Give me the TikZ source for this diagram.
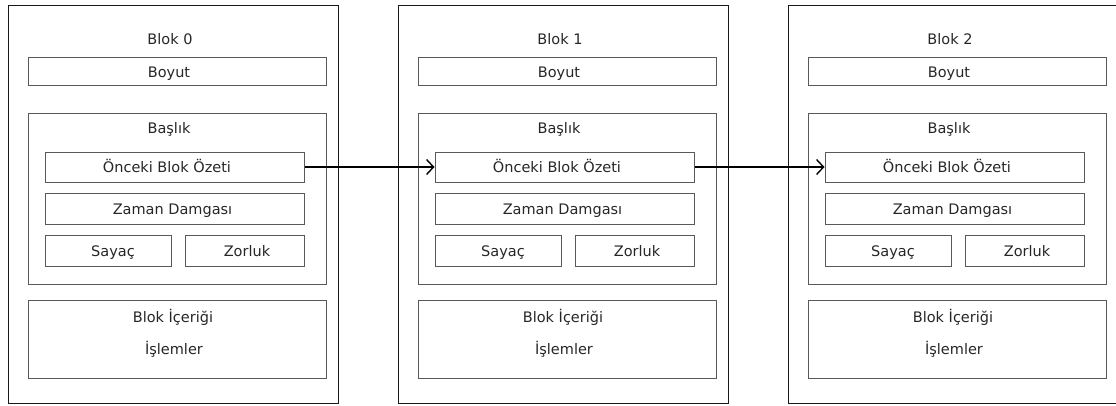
\documentclass[tikz,border=0pt]{standalone}
\usepackage{fontspec}
\setmainfont{DejaVu Sans}
\usetikzlibrary{arrows.meta}
\newcommand\BlkDraw[3]{%
  \begin{scope}[xshift=#1pt]
    \node[outer, minimum width=330pt, minimum height=398pt] (#3) at (165,204) {};
    \node[lbl] (#3t) at (162,44) {Blok #2};
    \node[inner, minimum width=298pt, minimum height=28pt] (#3boy) at (169,71) {};
    \node[lbl] (#3boyt) at (161,77) {Boyut};
    \node[inner, minimum width=298pt, minimum height=171pt] (#3bas) at (169,198.5) {};
    \node[lbl] (#3bast) at (161,133) {Başlık};
    \node[inner, minimum width=259pt, minimum height=30pt] (#3onc) at (166.5,167) {};
    \node[lbl] (#3onct) at (159,172) {Önceki Blok Özeti};
    \node[inner, minimum width=259pt, minimum height=31pt] (#3zam) at (166.5,208.5) {};
    \node[lbl] (#3zamt) at (164.5,214) {Zaman Damgası};
    \node[inner, minimum width=126pt, minimum height=31pt] (#3say) at (100,250.5) {};
    \node[lbl] (#3sayt) at (105,256) {Sayaç};
    \node[inner, minimum width=119pt, minimum height=31pt] (#3zor) at (236.5,250.5) {};
    \node[lbl] (#3zort) at (239,256) {Zorluk};
    \node[inner, minimum width=298pt, minimum height=78pt] (#3ic) at (169,339) {};
    \node[lbl] (#3ict) at (165,322) {Blok İçeriği};
    \node[lbl] (#3isl) at (166,354) {İşlemler};
  \end{scope}}
\begin{document}
\begin{tikzpicture}[x=1pt,y=-1pt,
  outer/.style={draw=black!90, line width=1pt, rectangle, inner sep=0pt},
  inner/.style={draw=black!65, line width=1pt, rectangle, inner sep=0pt},
  lbl/.style={anchor=base, inner sep=0pt, text=black!85, font=\fontsize{14.5}{17}\selectfont},
  link/.style={line width=1.4pt, -{Straight Barb[length=7pt,width=15pt,line width=1.4pt]}}]
\useasboundingbox (0,0) rectangle (1116,405);
\BlkDraw{8}{0}{ba}
\BlkDraw{398}{1}{bb}
\BlkDraw{788}{2}{bc}
\draw[link] (baonc.east) -- (bbonc.west);
\draw[link] (bbonc.east) -- (bconc.west);
\end{tikzpicture}
\end{document}
